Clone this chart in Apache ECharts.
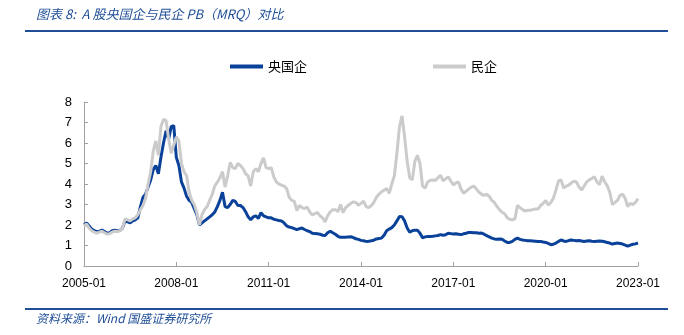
<!DOCTYPE html>
<html>
<head>
<meta charset="utf-8">
<script src="https://cdn.jsdelivr.net/npm/echarts@6/dist/echarts.min.js"></script>
<style>
html,body{margin:0;padding:0;background:#fff;}
#chart{width:684px;height:335px;}
</style>
</head>
<body>
<div id="chart"></div>
<script>
// ---- data ----
var titleText = '图表 8:  A 股央国企与民企 PB（MRQ）对比';
var sourceText = '资料来源：Wind 国盛证券研究所';
var seriesNames = ['央国企', '民企'];
var startYear = 2005, endYear = 2023;
var yTicks = [0, 1, 2, 3, 4, 5, 6, 7, 8];

// 央国企 PB, monthly 2005-01 .. 2023-01
var soeValues = [
  2.0, 2.1, 1.95, 1.8, 1.72, 1.67, 1.7, 1.75, 1.68, 1.6, 1.62, 1.72,
  1.75, 1.72, 1.73, 1.85, 2.2, 2.15, 2.1, 2.2, 2.25, 2.35, 2.9, 3.35,
  3.5, 3.85, 4.2, 4.7, 4.9, 4.5, 5.3, 6.0, 6.6, 6.2, 6.8, 6.85,
  5.3, 4.9, 4.1, 3.8, 3.4, 3.2, 3.1, 2.8, 2.5, 2.0, 2.1, 2.2,
  2.3, 2.4, 2.5, 2.64, 2.9, 3.2, 3.6, 2.9, 2.85, 3.0, 3.2, 3.15,
  2.95, 2.95, 2.85, 2.65, 2.4, 2.25, 2.4, 2.45, 2.32, 2.6, 2.45, 2.4,
  2.35, 2.35, 2.28, 2.25, 2.22, 2.2, 2.1, 1.96, 1.9, 1.87, 1.82, 1.77,
  1.82, 1.85, 1.78, 1.72, 1.68, 1.6, 1.58, 1.57, 1.55, 1.5, 1.49, 1.62,
  1.7, 1.62, 1.55, 1.45, 1.4, 1.4, 1.4, 1.42, 1.43, 1.38, 1.33, 1.3,
  1.25, 1.23, 1.2, 1.21, 1.23, 1.26, 1.32, 1.34, 1.36, 1.5, 1.72, 1.8,
  1.87, 2.0, 2.2, 2.42, 2.4, 2.2, 1.85, 1.65, 1.72, 1.75, 1.75, 1.6,
  1.38, 1.42, 1.44, 1.44, 1.45, 1.47, 1.49, 1.53, 1.5, 1.52, 1.6, 1.58,
  1.56, 1.57, 1.55, 1.53, 1.57, 1.6, 1.64, 1.63, 1.62, 1.62, 1.6, 1.61,
  1.55, 1.48, 1.42, 1.36, 1.32, 1.3, 1.32, 1.3, 1.22, 1.15, 1.15, 1.2,
  1.3, 1.36, 1.3, 1.27, 1.25, 1.23, 1.23, 1.22, 1.21, 1.2, 1.2, 1.17,
  1.15, 1.1, 1.04, 1.06, 1.12, 1.2, 1.27, 1.22, 1.2, 1.24, 1.27, 1.25,
  1.23, 1.24, 1.22, 1.2, 1.22, 1.23, 1.21, 1.2, 1.21, 1.22, 1.21, 1.18,
  1.15, 1.12, 1.07, 1.1, 1.12, 1.1, 1.07, 1.02, 0.97, 1.02, 1.06, 1.08,
  1.12
];

// 民企 PB, monthly 2005-01 .. 2023-01
var privateValues = [
  1.95, 2.05, 1.85, 1.72, 1.65, 1.6, 1.65, 1.7, 1.62, 1.55, 1.58, 1.65,
  1.7, 1.68, 1.72, 1.85, 2.3, 2.25, 2.2, 2.3, 2.35, 2.5, 2.75, 2.95,
  3.3, 4.0, 4.6, 5.6, 6.1, 5.4, 6.8, 7.15, 7.1, 6.2, 5.5, 5.9,
  6.3, 6.1, 5.0, 4.6, 4.4, 3.6, 3.2, 3.0, 2.6, 2.0, 2.5, 2.75,
  2.9, 3.2, 3.5, 3.9, 4.1, 4.3, 4.6, 3.85, 4.4, 5.05, 4.8, 4.75,
  5.0, 4.9, 4.75, 4.5, 4.4, 3.9, 4.6, 4.75, 4.6, 5.0, 5.27, 4.8,
  4.75, 4.8, 4.35, 4.1, 4.0, 3.95, 3.9, 3.78, 3.35, 3.2, 3.15, 2.7,
  2.95, 2.85, 2.8, 2.88, 2.64, 2.5, 2.55, 2.62, 2.45, 2.35, 2.15, 2.45,
  2.64, 2.75, 2.75, 2.65, 3.0, 2.6, 2.85, 2.95, 3.05, 3.13, 3.1, 2.97,
  3.05, 3.16, 2.9, 2.85, 2.95, 3.1, 3.35, 3.5, 3.62, 3.7, 3.78, 3.55,
  4.0, 4.4, 5.5, 6.8, 7.32, 6.3, 5.1, 4.3, 4.2, 5.1, 5.4, 5.0,
  3.9, 3.8, 4.1, 4.18, 4.2, 4.18, 4.3, 4.43, 4.15, 4.25, 4.35, 4.15,
  3.95, 4.05, 4.1, 3.75, 3.55, 3.65, 3.75, 3.85, 3.9, 3.75, 3.6, 3.5,
  3.45, 3.5, 3.4, 3.2, 3.1, 2.9, 2.75, 2.62, 2.55, 2.35, 2.28, 2.25,
  2.3, 2.95, 2.85, 2.75, 2.68, 2.72, 2.72, 2.75, 2.78, 2.78, 2.95, 3.05,
  3.2, 2.97, 3.1, 3.3, 3.7, 4.15, 4.2, 3.8, 3.9, 3.95, 4.05, 4.14,
  4.1, 3.85, 3.7, 3.9, 4.1, 4.2, 4.27, 4.35, 4.1, 3.97, 4.38, 4.1,
  3.92, 3.6, 3.0, 3.1, 3.2, 3.45, 3.5, 3.3, 2.9, 3.05, 3.0, 3.1,
  3.29
];

// month categories 2005-01 .. 2023-01
var categories = [];
for (var y = startYear; y <= endYear; y++) {
  for (var mo = 1; mo <= 12; mo++) {
    if (y === endYear && mo > 1) break;
    categories.push(y + '-' + (mo < 10 ? '0' + mo : mo));
  }
}

var chart = echarts.init(document.getElementById('chart'), null, {renderer: 'canvas'});
var labelEvery = 36;
var baseFont = '"Liberation Sans", "Noto Sans CJK SC", sans-serif';
var cjkFont = '"Noto Sans CJK SC", "Liberation Sans", sans-serif';

chart.setOption({
  animation: false,
  backgroundColor: '#ffffff',
  graphic: [
    {type: 'text', left: 36, top: 8, style: {text: titleText, fill: '#1F4E96', font: 'italic 13px ' + cjkFont}},
    {type: 'rect', shape: {x: 25, y: 30, width: 643, height: 2}, style: {fill: '#1F4E96'}},
    {type: 'rect', shape: {x: 25, y: 308, width: 643, height: 2}, style: {fill: '#1F4E96'}},
    {type: 'text', left: 36, top: 312, style: {text: sourceText, fill: '#1F4E96', font: 'italic 12px ' + cjkFont}}
  ],
  legend: {
    left: 225, top: 55,
    itemWidth: 33, itemHeight: 4, itemGap: 126,
    icon: 'rect',
    textStyle: {color: '#000', fontSize: 13, fontFamily: cjkFont},
    data: seriesNames
  },
  grid: {left: 84, right: 46, top: 102, bottom: 69, containLabel: false},
  xAxis: {
    type: 'category',
    data: categories,
    boundaryGap: false,
    axisLine: {lineStyle: {color: '#A0A0A0', width: 1}},
    axisTick: {inside: true, length: 4, lineStyle: {color: '#A0A0A0'},
      interval: function (i) { return i % labelEvery === 0; }},
    axisLabel: {color: '#000', fontSize: 12, fontFamily: baseFont, margin: 12,
      interval: function (i) { return i % labelEvery === 0; }},
    splitLine: {show: false}
  },
  yAxis: {
    type: 'value',
    min: yTicks[0], max: yTicks[yTicks.length - 1], interval: 1,
    axisLine: {show: true, lineStyle: {color: '#A0A0A0', width: 1}},
    axisTick: {show: true, inside: true, length: 4, lineStyle: {color: '#A0A0A0'}},
    axisLabel: {color: '#000', fontSize: 13, fontFamily: baseFont, margin: 12},
    splitLine: {show: false}
  },
  series: [
    {name: seriesNames[0], type: 'line', data: soeValues, showSymbol: false, symbol: 'none',
      lineStyle: {color: '#0A4199', width: 3}, itemStyle: {color: '#0A4199'}, z: 2},
    {name: seriesNames[1], type: 'line', data: privateValues, showSymbol: false, symbol: 'none',
      lineStyle: {color: '#CBCBCB', width: 3}, itemStyle: {color: '#CBCBCB'}, z: 3}
  ]
});
</script>
</body>
</html>
